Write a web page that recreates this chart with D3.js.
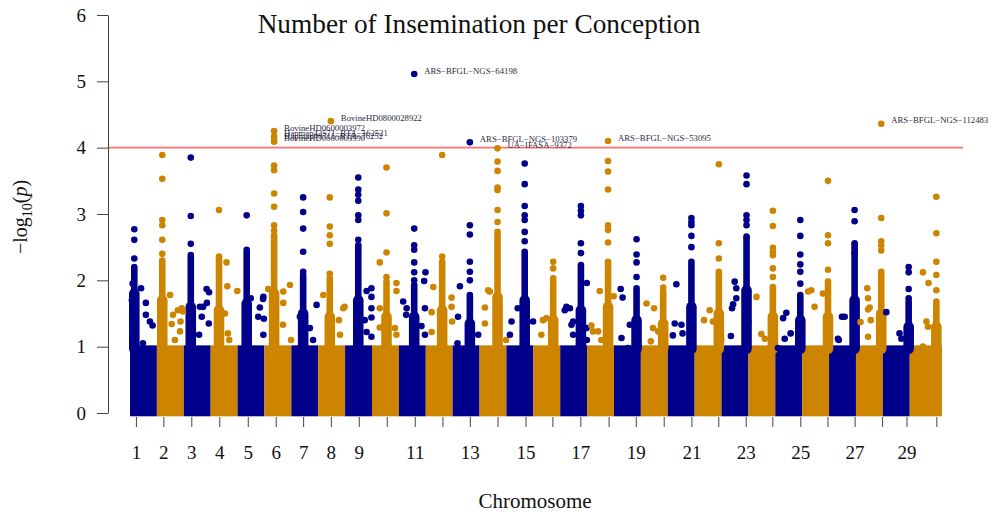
<!DOCTYPE html>
<html><head><meta charset="utf-8">
<script src="https://cdn.jsdelivr.net/npm/d3@7"></script>
<style>body{margin:0;background:#fff}svg{display:block}</style>
</head><body>
<svg id="c" width="991" height="513"></svg>
<script>
// ---------------- DATA ----------------
const chromosomes = ["1","2","3","4","5","6","7","8","9","10","11","12","13","14","15","16","17","18","19","20","21","22","23","24","25","26","27","28","29","30"];
const chrLen = [1,1,1,1,1,1,1,1,1,1,1,1,1,1,1,1,1,1,1,1,1,1,1,1,1,1,1,1,1,1.2];
const tickOffset = [0.22,0.24,0.28,0.32,0.38,0.42,0.44,0.47,0.51,0.55,0.59,0.62,0.64,0.67,0.71,0.71,0.75,0.80,0.81,0.85,0.88,0.88,0.90,0.89,0.93,0.94,0.95,0.97,0.88,0.99];
const tickLabels = ["1","2","3","4","5","6","7","8","9","","11","","13","","15","","17","","19","","21","","23","","25","","27","","29",""];
const yTicks = [0,1,2,3,4,5,6];
const threshold = 4;
// dense bulk of non-significant SNPs: top of the solid mass per chromosome
const baseTop = [0.97,0.97,0.97,0.97,0.97,0.97,0.97,0.97,0.97,0.97,0.97,0.97,0.97,0.97,0.97,0.97,0.97,0.97,0.97,0.97,0.97,0.97,0.97,0.97,0.97,0.97,0.97,0.97,0.97,0.97];
// dense column of SNPs in the peak region (position within chromosome, top of solid column)
const peakPos = [0.16,0.20,0.26,0.31,0.34,0.36,0.44,0.43,0.49,0.54,0.57,0.61,0.64,0.67,0.68,0.74,0.77,0.78,0.84,0.83,0.88,0.90,0.93,0.91,0.93,0.96,0.95,0.94,0.96,0.99];
const peakTop = [2.20,2.30,2.38,2.36,2.46,2.68,2.08,2.03,2.53,1.98,1.93,2.28,1.78,2.68,2.43,1.98,2.23,2.28,1.88,1.83,2.28,2.13,2.63,1.90,1.78,1.98,2.53,2.13,1.68,1.68];
// lower, wider part of each peak column (top of the wide part)
const peakShoulder = [1.80,1.70,1.60,1.55,1.65,1.80,1.50,1.45,1.70,1.45,1.45,1.55,1.35,1.75,1.70,1.40,1.55,1.60,1.40,1.35,1.60,1.50,1.85,1.45,1.40,1.45,1.70,1.50,1.30,1.30];
// separate SNPs above each peak column
const peakPoints = [
  [2.33,2.61,2.77],
  [3.89,3.53,2.91,2.83,2.61,2.40],
  [3.85,2.97,2.55],
  [3.06],
  [2.98],
  [3.73,3.66,3.31,3.11,2.83,2.75],
  [3.25,3.03,2.78,2.43,2.13],
  [3.25,2.81,2.68,2.55,2.10],
  [3.55,3.37,3.29,3.20,2.98,2.91,2.61],
  [3.70,3.01,2.42,2.05],
  [2.78,2.53,2.46,2.27,2.12,2.00],
  [3.89,2.36],
  [2.83,2.69,2.28,2.13,2.00],
  [3.79,3.65,3.40,3.36,3.06,2.88,2.73],
  [3.76,3.45,3.12,2.98,2.91,2.73,2.59],
  [2.28,2.18,2.03],
  [3.12,3.05,2.98,2.56,2.41],
  [3.80,3.64,3.37,2.83,2.76,2.57],
  [2.62,2.39,2.27,2.05],
  [2.04,1.89],
  [2.94,2.88,2.83,2.67,2.50],
  [3.75,2.56,2.33],
  [3.58,3.45,2.98,2.91,2.83,2.66],
  [3.05,2.82,2.49,2.43,2.38,2.18,2.05],
  [2.91,2.67,2.39,2.24,2.13,1.95],
  [3.50,2.68,2.56,2.16],
  [3.06,2.89,2.56,2.41],
  [2.94,2.59,2.53,2.45],
  [2.20,2.12,1.87,1.73],
  [3.26,2.71,2.28,2.08,1.85]
];
// scattered SNPs: [chromosome, position within chromosome, -log10(p)]
const scatterPoints = [
  [1,0.07,1.70],[1,0.10,1.95],[1,0.41,1.88],[1,0.59,1.66],[1,0.59,1.48],[1,0.74,1.38],[1,0.84,1.32],[1,0.48,1.05],
  [2,0.49,1.78],[2,0.78,1.55],[2,0.92,1.58],[2,0.60,1.48],[2,0.55,1.34],[2,0.88,1.38],[2,0.86,1.23],[2,0.97,1.53],[2,0.67,1.10],
  [3,0.85,1.87],[3,0.94,1.82],[3,0.60,1.60],[3,0.72,1.60],[3,0.86,1.66],[3,0.67,1.45],[3,0.93,1.35],[3,0.57,1.18],
  [4,0.59,2.27],[4,0.62,1.91],[4,0.99,1.84],[4,0.53,1.50],[4,0.64,1.20],[4,0.69,1.10],
  [5,0.83,1.59],[5,0.96,1.75],[5,0.98,1.42],[5,0.77,1.45],[5,0.49,1.73],[5,0.95,1.72],[5,0.96,1.18],
  [6,0.70,1.83],[6,0.95,1.93],[6,0.70,1.66],[6,0.69,1.33],[6,0.99,1.10],[6,0.14,1.87],
  [7,0.94,1.63],[7,0.32,1.45],[7,0.69,1.28],[7,0.81,1.10],
  [8,0.93,1.58],[8,0.98,1.60],[8,0.77,1.40],[8,0.81,1.18],[8,0.19,1.78],
  [9,0.80,1.84],[9,0.98,1.88],[9,0.98,1.75],[9,0.98,1.58],[9,0.98,1.44],[9,0.73,1.40],[9,0.80,1.22],[9,0.98,1.15],
  [10,0.29,2.27],[10,0.91,1.96],[10,0.91,1.84],[10,0.29,1.29],[10,0.85,1.28],[10,0.91,1.18],[10,0.29,1.58],
  [11,0.99,2.12],[11,0.94,1.99],[11,0.16,1.68],[11,0.29,1.58],[11,0.27,1.48],[11,0.97,1.58],[11,0.84,1.31],[11,0.97,1.18],
  [12,0.28,1.90],[12,0.22,1.52],[12,0.96,1.74],[12,0.96,1.60],[12,0.98,1.38],[12,0.22,1.22],
  [13,0.27,1.91],[13,0.20,1.45],[13,0.18,1.05],[13,0.95,1.18],
  [14,0.38,1.83],[14,0.20,1.59],[14,0.20,1.35],[14,0.99,1.10],[14,0.32,1.85],
  [15,0.19,1.38],[15,0.42,1.58],[15,0.99,1.38],[15,0.13,1.18],
  [16,0.49,1.43],[16,0.30,1.18],[16,0.36,1.40],
  [17,0.23,1.60],[17,0.36,1.58],[17,0.17,1.55],[17,0.48,1.38],[17,0.42,1.33],[17,0.48,1.18],[17,0.99,1.96],[17,0.98,1.28],[17,0.99,1.10],
  [18,0.47,1.84],[18,0.99,1.76],[18,0.16,1.32],[18,0.22,1.23],[18,0.41,1.23],[18,0.53,1.10],
  [19,0.25,1.87],[19,0.32,1.74],[19,0.28,1.13],[19,0.59,1.33],[19,0.53,0.98],
  [20,0.21,1.65],[20,0.49,1.58],[20,0.45,1.28],[20,0.64,1.23],[20,0.37,1.08],
  [21,0.32,1.94],[21,0.26,1.35],[21,0.51,1.33],[21,0.55,1.20],[21,0.19,1.17],
  [22,0.56,1.55],[22,0.35,1.40],[22,0.68,1.38],[22,0.99,1.10],
  [23,0.49,1.98],[23,0.55,1.88],[23,0.43,1.64],[23,0.39,1.58],[23,0.55,1.73],[23,0.35,1.16],[23,0.99,1.38],
  [24,0.30,1.75],[24,0.48,1.19],[24,0.61,1.12],
  [25,0.41,1.51],[25,0.29,1.43],[25,0.57,1.20],[25,0.35,1.12],[25,0.10,0.98],
  [26,0.22,1.83],[26,0.34,1.85],[26,0.46,1.60],[26,0.77,1.80],
  [27,0.48,1.45],[27,0.58,1.45],[27,0.33,1.12],[27,0.36,1.10],
  [28,0.42,1.88],[28,0.45,1.73],[28,0.51,1.59],[28,0.45,1.56],[28,0.55,1.40],[28,0.45,1.15],[28,0.17,1.37],
  [29,0.13,1.52],[29,0.62,1.20],[29,0.69,1.12],
  [30,0.49,2.12],[30,0.70,1.96],[30,0.62,1.38],[30,0.68,1.30],[30,0.49,1.00]
];
// annotated SNPs: [chromosome, position within chromosome, -log10(p), SNP name]
const hits = [
  [6,0.36,4.25,"BovineHD0600003972"],
  [6,0.36,4.17,"Hapmap42571-BTA-162521"],
  [6,0.36,4.12,"Hapmap40711-BTA-76252"],
  [6,0.36,4.09,"BovineHD0600003990"],
  [8,0.47,4.40,"BovineHD0800028922"],
  [11,0.57,5.11,"ARS-BFGL-NGS-64198"],
  [13,0.64,4.08,"ARS-BFGL-NGS-103379"],
  [14,0.67,3.99,"UA-IFASA-9372"],
  [18,0.78,4.10,"ARS-BFGL-NGS-53095"],
  [28,0.94,4.36,"ARS-BFGL-NGS-112483"]
];
const colors = ["#00008B","#CD8500"];

// ---------------- CHART ----------------
const svg = d3.select("#c");
const serif = "'Liberation Serif','Times New Roman',serif";
const chrStart = [];
chrLen.reduce((acc, l, i) => { chrStart[i] = acc; return acc + l; }, 0);
const total = d3.sum(chrLen);
const x = d3.scaleLinear().domain([0, total]).range([130, 942]);
const y = d3.scaleLinear().domain([0, 6]).range([413, 15]);
const col = c => colors[(c - 1) % 2];
const px = (c, p) => x(chrStart[c - 1] + p);
const R = 3.3;

svg.append("rect").attr("width", 991).attr("height", 513).attr("fill", "#fff");

// bulk
svg.append("g").selectAll("rect").data(chromosomes).join("rect")
  .attr("x", (d, i) => x(chrStart[i]))
  .attr("width", (d, i) => x(chrStart[i] + chrLen[i]) - x(chrStart[i]))
  .attr("y", (d, i) => y(baseTop[i]) - R)
  .attr("height", (d, i) => y(0) - y(baseTop[i]) + 2 * R)
  .attr("fill", (d, i) => colors[i % 2]);

// threshold
svg.append("line").attr("x1", 108).attr("x2", 963)
  .attr("y1", y(threshold)).attr("y2", y(threshold))
  .attr("stroke", "#FF7070").attr("stroke-width", 1.6);

// peak columns: wide lower shoulder, then narrow solid column
svg.append("g").selectAll("line").data(chromosomes).join("line")
  .attr("x1", (d, i) => px(i + 1, peakPos[i])).attr("x2", (d, i) => px(i + 1, peakPos[i]))
  .attr("y1", (d, i) => y(baseTop[i])).attr("y2", (d, i) => y(peakShoulder[i]))
  .attr("stroke", (d, i) => colors[i % 2]).attr("stroke-width", 3.2 * R).attr("stroke-linecap", "round");
svg.append("g").selectAll("line").data(chromosomes).join("line")
  .attr("x1", (d, i) => px(i + 1, peakPos[i])).attr("x2", (d, i) => px(i + 1, peakPos[i]))
  .attr("y1", (d, i) => y(baseTop[i])).attr("y2", (d, i) => y(peakTop[i]))
  .attr("stroke", (d, i) => colors[i % 2]).attr("stroke-width", 2 * R).attr("stroke-linecap", "round");

const allPts = [];
peakPoints.forEach((arr, i) => arr.forEach(v => allPts.push([i + 1, peakPos[i], v])));
scatterPoints.forEach(d => allPts.push(d));
hits.forEach(d => allPts.push([d[0], d[1], d[2]]));

svg.append("g").selectAll("circle").data(allPts).join("circle")
  .attr("cx", d => px(d[0], d[1])).attr("cy", d => y(d[2])).attr("r", R)
  .attr("fill", d => col(d[0]));

// hit labels
svg.append("g").selectAll("text").data(hits).join("text")
  .attr("x", d => px(d[0], d[1]) + 10).attr("y", d => y(d[2]) - 2.5)
  .attr("dominant-baseline", "middle")
  .attr("font-family", serif).attr("font-size", 8.7).attr("fill", "#2a2a40")
  .text(d => d[3].replace(/-/g, "\u2212"));

// axes
const xAxis = d3.axisBottom(x)
  .tickValues(chromosomes.map((d, i) => chrStart[i] + tickOffset[i]))
  .tickFormat((d, i) => tickLabels[i])
  .tickSizeInner(10).tickSizeOuter(0).tickPadding(19);
const gx = svg.append("g").attr("transform", "translate(0,417)").call(xAxis);
gx.select(".domain").remove();
gx.selectAll("line").attr("stroke", "#444");
gx.selectAll("text").attr("font-family", serif).attr("font-size", 19).attr("fill", "#111");

const yAxis = d3.axisLeft(y).tickValues(yTicks).tickFormat(d3.format("d"))
  .tickSizeInner(11).tickSizeOuter(0).tickPadding(11);
const gy = svg.append("g").attr("transform", "translate(108,0)").call(yAxis);
gy.select(".domain").attr("stroke", "#444");
gy.selectAll("line").attr("stroke", "#444");
gy.selectAll("text").attr("font-family", serif).attr("font-size", 19).attr("fill", "#111");

// titles
svg.append("text").attr("x", 479).attr("y", 33).attr("text-anchor", "middle")
  .attr("font-family", serif).attr("font-size", 27.3).attr("fill", "#111")
  .text("Number of Insemination per Conception");
svg.append("text").attr("x", 535).attr("y", 508).attr("text-anchor", "middle")
  .attr("font-family", serif).attr("font-size", 21).attr("fill", "#111")
  .text("Chromosome");
const yl = svg.append("text").attr("transform", "translate(27,217) rotate(-90)")
  .attr("text-anchor", "middle").attr("font-family", serif).attr("font-size", 20).attr("fill", "#111");
yl.append("tspan").text("\u2212log");
yl.append("tspan").attr("font-size", 14).attr("dy", 5).text("10");
yl.append("tspan").attr("dy", -5).text("(");
yl.append("tspan").attr("font-style", "italic").text("p");
yl.append("tspan").text(")");
</script>
</body></html>
